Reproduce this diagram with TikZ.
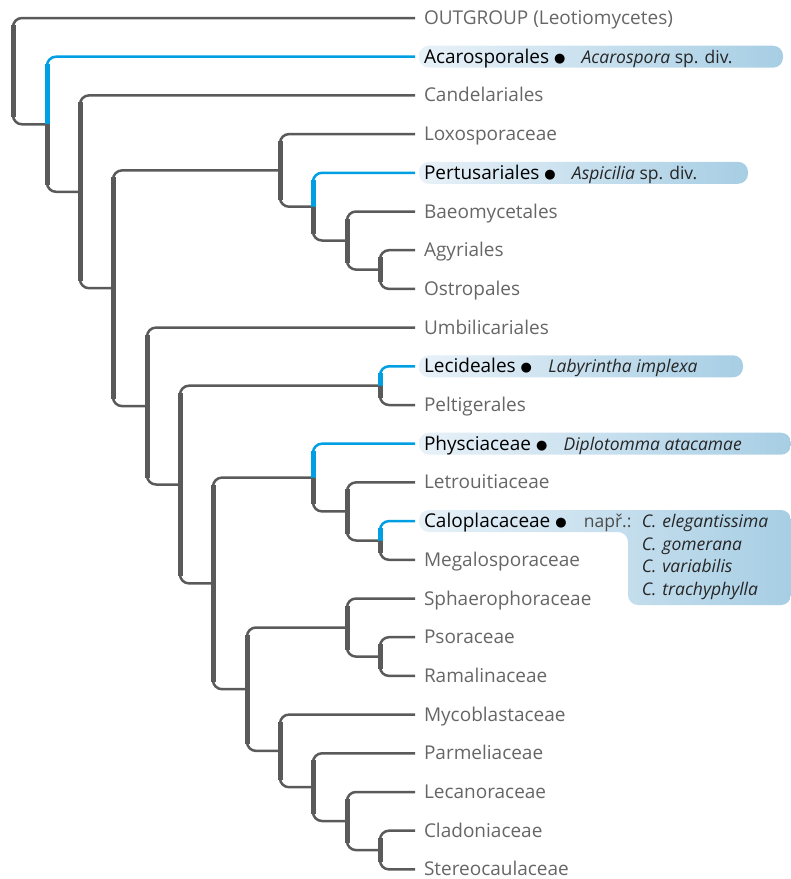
\documentclass[tikz,border=0pt]{standalone}
\usepackage{fontspec}
\setmainfont{Open Sans}
\newfontfamily\dotfont{DejaVu Sans}
\usepackage{tikz}
\usetikzlibrary{positioning,calc}

\definecolor{treegray}{HTML}{5A5A5A}
\definecolor{treeblue}{HTML}{009FE3}
\definecolor{leafgray}{HTML}{666666}
\definecolor{boxlight}{HTML}{E8F1F8}
\definecolor{boxdark}{HTML}{A7CEE4}

% black dot after a highlighted name
\newcommand\hldot{\raisebox{1pt}{\dotfont\fontsize{13}{13}\selectfont ●}}
% one branch: thick stem at the parent, thin twig to the child
\newcommand\twig[3][treegray]{%
  \draw[stem,#1] (#2) -- ($(#2 |- #3)!7pt!(#2)$);
  \draw[branch,#1] (#2) |- (#3);}

\begin{document}
\begin{tikzpicture}[x=1pt, y=-1pt,
  leaf/.style={anchor=west, inner sep=0pt, outer xsep=9pt, text height=14pt, text depth=1pt,
    font=\fontsize{19}{22}\selectfont, text=leafgray},
  hl/.style={leaf, text=black},
  spec/.style={inner sep=0pt, text height=14pt, text depth=1pt,
    font=\fontsize{17.5}{22.5}\selectfont, text=black!85},
  stem/.style={draw=treegray, line width=5pt},
  branch/.style={draw=treegray, line width=2.5pt, rounded corners=9pt},
  blue/.style={draw=treeblue},
  hlbox/.style={left color=boxlight, right color=boxdark, rounded corners=10pt}]
  \useasboundingbox (0,2) rectangle (791,881);

  % highlight boxes
  \shade[hlbox] (419,47.7) rectangle (783,69.7);
  \shade[hlbox] (419,163.8) rectangle (748,185.8);
  \shade[hlbox] (419,357.3) rectangle (743,379.3);
  \shade[hlbox] (419,434.7) rectangle (791,456.7);
  \shade[hlbox] (419,512) -- (791,512) -- (791,607) -- (628,607) -- (628,534)
    -- (419,534) -- cycle;

  % leaves
  \node[leaf] (outg) at (415,20)    {OUTGROUP (Leotiomycetes)};
  \node[hl]   (acar) at (415,58.7)  {Acarosporales\ \hldot};
  \node[leaf] (cand) at (415,97.4)  {Candelariales};
  \node[leaf] (loxo) at (415,136.1) {Loxosporaceae};
  \node[hl]   (pert) at (415,174.8) {Pertusariales\ \hldot};
  \node[leaf] (baeo) at (415,213.5) {Baeomycetales};
  \node[leaf] (agyr) at (415,252.2) {Agyriales};
  \node[leaf] (ostr) at (415,290.9) {Ostropales};
  \node[leaf] (umbi) at (415,329.6) {Umbilicariales};
  \node[hl]   (leci) at (415,368.3) {Lecideales\ \hldot};
  \node[leaf] (pelt) at (415,407)   {Peltigerales};
  \node[hl]   (phys) at (415,445.7) {Physciaceae\ \hldot};
  \node[leaf] (letr) at (415,484.4) {Letrouitiaceae};
  \node[hl]   (calo) at (415,523.1) {Caloplacaceae\ \hldot};
  \node[leaf] (mega) at (415,561.8) {Megalosporaceae};
  \node[leaf] (spha) at (415,600.5) {Sphaerophoraceae};
  \node[leaf] (psor) at (415,639.2) {Psoraceae};
  \node[leaf] (rama) at (415,677.9) {Ramalinaceae};
  \node[leaf] (myco) at (415,716.6) {Mycoblastaceae};
  \node[leaf] (parm) at (415,755.3) {Parmeliaceae};
  \node[leaf] (leca) at (415,794)   {Lecanoraceae};
  \node[leaf] (clad) at (415,832.7) {Cladoniaceae};
  \node[leaf] (ster) at (415,871.4) {Stereocaulaceae};

  % species
  \node[spec, right=7pt of acar] (acarsp) {\textit{Acarospora} sp. div.};
  \node[spec, right=7pt of pert] (pertsp) {\textit{Aspicilia} sp. div.};
  \node[spec, right=7pt of leci] (lecisp) {\textit{Labyrintha implexa}};
  \node[spec, right=7pt of phys] (physsp) {\textit{Diplotomma atacamae}};
  \node[spec, right=8pt of calo, text=black!70] (napr) {např.:};
  \node[spec, anchor=base west, text width=140pt, align=left, text height=, text depth=]
    (calosp) at ($(napr.base east)+(10pt,0)$)
    {\textit{C. elegantissima}\\ \textit{C. gomerana}\\
     \textit{C. variabilis}\\ \textit{C. trachyphylla}};

  % inner nodes
  \coordinate (root) at (13,73.1);
  \coordinate (n1)   at (47,126.3);
  \coordinate (n2)   at (80,193.8);
  \coordinate (n3)   at (113,290.2);
  \coordinate (n4)   at (280,172.4);
  \coordinate (n4a)  at (313,208.7);
  \coordinate (n4b)  at (347,242.5);
  \coordinate (n4c)  at (380,271.6);
  \coordinate (n5)   at (147,408.1);
  \coordinate (n6)   at (180,486.5);
  \coordinate (n7)   at (380,387.7);
  \coordinate (n8)   at (213,585.4);
  \coordinate (n9)   at (313,479.6);
  \coordinate (n9a)  at (347,513.4);
  \coordinate (n9b)  at (380,542.5);
  \coordinate (n10)  at (247,691.2);
  \coordinate (n11)  at (347,629.5);
  \coordinate (n11a) at (380,658.6);
  \coordinate (n12)  at (280,752.9);
  \coordinate (n12a) at (313,789.2);
  \coordinate (n12b) at (347,823);
  \coordinate (n12c) at (380,852.1);

  % tree
  \twig{root}{outg.west} \twig{root}{n1}
  \twig[blue]{n1}{acar.west} \twig{n1}{n2}
  \twig{n2}{cand.west} \twig{n2}{n3}
  \twig{n3}{n4} \twig{n3}{n5}
  \twig{n4}{loxo.west} \twig{n4}{n4a}
  \twig[blue]{n4a}{pert.west} \twig{n4a}{n4b}
  \twig{n4b}{baeo.west} \twig{n4b}{n4c}
  \twig{n4c}{agyr.west} \twig{n4c}{ostr.west}
  \twig{n5}{umbi.west} \twig{n5}{n6}
  \twig{n6}{n7} \twig{n6}{n8}
  \twig[blue]{n7}{leci.west} \twig{n7}{pelt.west}
  \twig{n8}{n9} \twig{n8}{n10}
  \twig[blue]{n9}{phys.west} \twig{n9}{n9a}
  \twig{n9a}{letr.west} \twig{n9a}{n9b}
  \twig[blue]{n9b}{calo.west} \twig{n9b}{mega.west}
  \twig{n10}{n11} \twig{n10}{n12}
  \twig{n11}{spha.west} \twig{n11}{n11a}
  \twig{n11a}{psor.west} \twig{n11a}{rama.west}
  \twig{n12}{myco.west} \twig{n12}{n12a}
  \twig{n12a}{parm.west} \twig{n12a}{n12b}
  \twig{n12b}{leca.west} \twig{n12b}{n12c}
  \twig{n12c}{clad.west} \twig{n12c}{ster.west}
\end{tikzpicture}
\end{document}
